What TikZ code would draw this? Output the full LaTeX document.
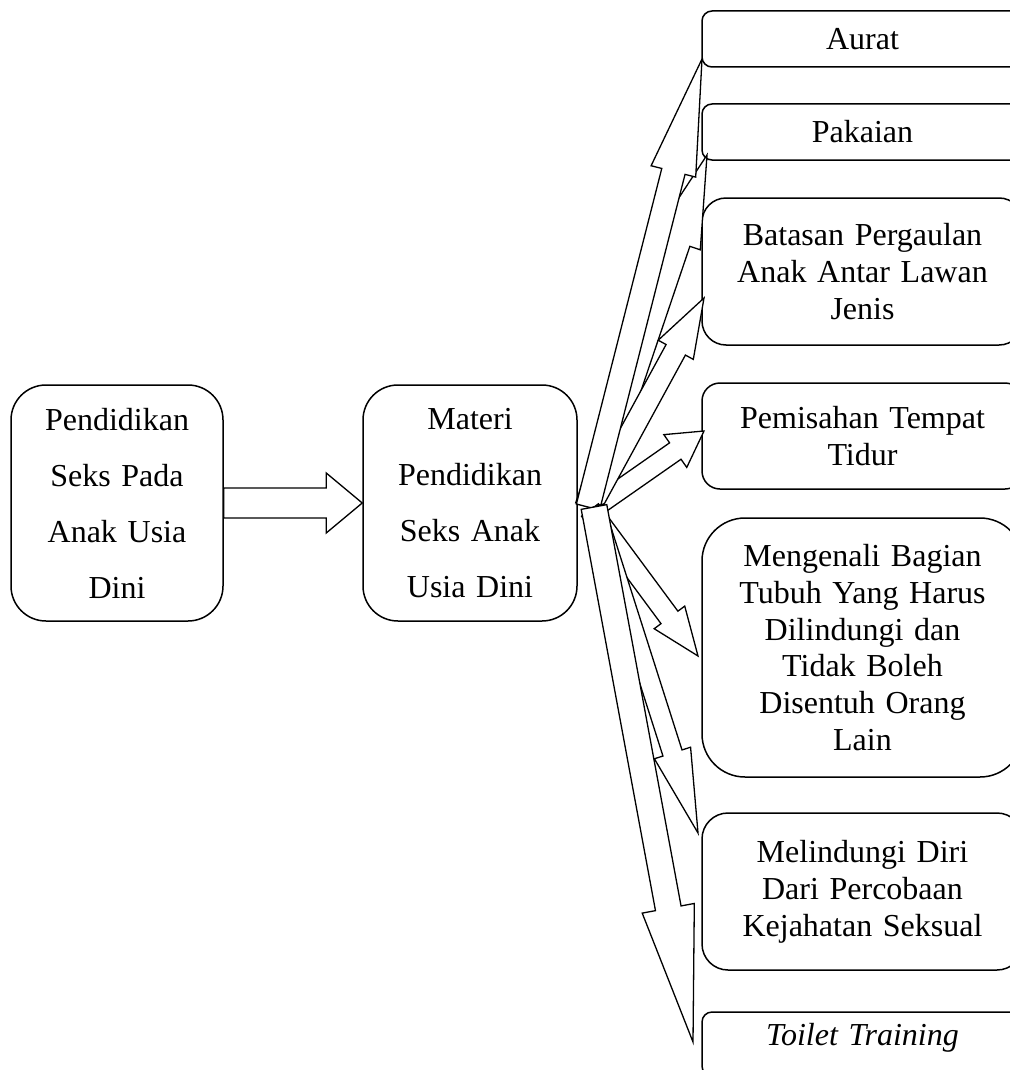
\documentclass[tikz,border=0pt]{standalone}
\usepackage{fontspec}
\setmainfont{Liberation Serif}
\usepackage{tikz}
\usetikzlibrary{calc,positioning}

\tikzset{
  kotak/.style={draw, line width=1.5pt, align=center, inner sep=0pt,
    text width=300pt, minimum width=321pt, font=\fontsize{32}{36.8}\selectfont},
  kotakbesar/.style={draw, line width=1.5pt, align=center, inner sep=0pt,
    text width=200pt, minimum height=236pt, rounded corners=35pt,
    font=\fontsize{32}{56}\selectfont},
  panah/.style={draw, line width=1.3pt, fill=white, line join=miter},
}
% block arrow: tail, tip, head length, head half width, shaft half width
\newcommand{\blokpanah}[5]{%
  \coordinate (dasar) at ($(#2)!#3pt!(#1)$);
  \draw[panah] ($(#1)!#5pt!90:(#2)$) -- ($(dasar)!#5pt!90:(#2)$)
    -- ($(dasar)!#4pt!90:(#2)$) -- (#2) -- ($(dasar)!#4pt!-90:(#2)$)
    -- ($(dasar)!#5pt!-90:(#2)$) -- ($(#1)!#5pt!-90:(#2)$) -- cycle;
}

\begin{document}
\begin{tikzpicture}[x=1pt, y=-1pt]
\useasboundingbox (0,0) rectangle (1009,1070);

% left boxes
\node[kotakbesar, minimum width=212pt] (pendidikan) at (117,503) {Pendidikan\\Seks Pada\\Anak Usia\\Dini};
\node[kotakbesar, minimum width=214pt] (materi) at (470,503) {Materi\\Pendidikan\\Seks Anak\\Usia Dini};

% right boxes
\node[kotak, rounded corners=10pt, minimum height=56pt] (aurat) at (862.5,39) {Aurat};
\node[kotak, rounded corners=10pt, minimum height=56pt] (pakaian) at (862.5,132) {Pakaian};
\node[kotak, rounded corners=24pt, minimum height=147pt] (batasan) at (862.5,271.5) {Batasan Pergaulan\\Anak Antar Lawan\\Jenis};
\node[kotak, rounded corners=18pt, minimum height=106pt] (pemisahan) at (862.5,436) {Pemisahan Tempat\\Tidur};
\node[kotak, rounded corners=43pt, minimum height=259pt] (mengenali) at (862.5,647.5) {Mengenali Bagian\\Tubuh Yang Harus\\Dilindungi dan\\Tidak Boleh\\Disentuh Orang\\Lain};
\node[kotak, rounded corners=26pt, minimum height=157pt] (melindungi) at (862.5,891.5) {Melindungi Diri\\Dari Percobaan\\Kejahatan Seksual};
\node[kotak, rounded corners=10pt, minimum height=64pt, text depth=19pt] (toilet) at (862.5,1044) {\itshape Toilet Training};

% arrow ends
\coordinate (pAurat) at (588,507);
\coordinate (pPakaian) at (588,507);
\coordinate (pBatasan) at (590,507);
\coordinate (pPemisahan) at (598,505);
\coordinate (pMengenali) at (590,510);
\coordinate (pMelindungi) at (594,507);
\coordinate (pToilet) at (594,507);
\coordinate (uAurat) at (702,59);
\coordinate (uPakaian) at (707,155);
\coordinate (uBatasan) at (704,298);
\coordinate (uPemisahan) at (704,431);
\coordinate (uMengenali) at (698,656);
\coordinate (uMelindungi) at (698,833);
\coordinate (uToilet) at (693,1042);

\blokpanah{pendidikan.east}{materi.west}{36}{30}{15}

\blokpanah{pPakaian}{uPakaian}{92}{24}{13}
\blokpanah{pPemisahan}{uPemisahan}{35}{20}{10}
\blokpanah{pBatasan}{uBatasan}{59}{20}{11}
\blokpanah{pAurat}{uAurat}{116}{23}{12}
\blokpanah{pMengenali}{uMengenali}{48}{19}{10.5}
\blokpanah{pMelindungi}{uMelindungi}{84}{19}{10}
\blokpanah{pToilet}{uToilet}{136}{26.5}{13}
\end{tikzpicture}
\end{document}
